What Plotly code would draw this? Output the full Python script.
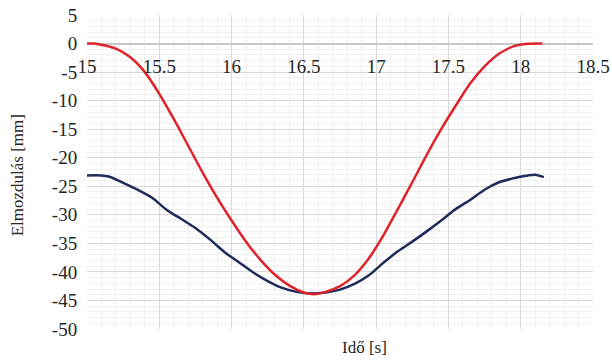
import plotly.graph_objects as go

# Data
t_red = [15.00, 15.05, 15.10, 15.20, 15.30, 15.40, 15.50, 15.60, 15.70, 15.80, 15.90,
         16.00, 16.10, 16.20, 16.30, 16.40, 16.50, 16.57, 16.65, 16.75, 16.85, 16.95,
         17.05, 17.15, 17.25, 17.35, 17.45, 17.55, 17.65, 17.75, 17.85, 17.95, 18.05, 18.15]
y_red = [0.0, 0.0, -0.2, -0.9, -2.4, -5.0, -8.8, -13.2, -17.9, -22.6, -27.0,
         -31.0, -34.7, -37.9, -40.5, -42.4, -43.6, -43.9, -43.5, -42.5, -40.6, -37.6,
         -33.6, -29.0, -24.3, -19.5, -15.0, -10.9, -7.0, -4.0, -1.8, -0.5, -0.05, 0.0]

t_blue = [15.00, 15.10, 15.15, 15.25, 15.35, 15.45, 15.55, 15.65, 15.75, 15.85, 15.95,
          16.05, 16.15, 16.25, 16.35, 16.45, 16.55, 16.65, 16.75, 16.85, 16.95, 17.05,
          17.15, 17.25, 17.35, 17.45, 17.55, 17.65, 17.75, 17.85, 17.95, 18.05, 18.10, 18.16]
y_blue = [-23.1, -23.1, -23.3, -24.4, -25.6, -27.0, -29.1, -30.7, -32.3, -34.3, -36.5,
          -38.3, -40.1, -41.6, -42.8, -43.5, -43.8, -43.6, -43.1, -42.1, -40.6, -38.4,
          -36.4, -34.7, -32.9, -31.0, -29.0, -27.4, -25.6, -24.3, -23.6, -23.1, -23.0, -23.4]

x_tickvals = [15, 15.5, 16, 16.5, 17, 17.5, 18, 18.5]
x_ticktext = ["15", "15.5", "16", "16.5", "17", "17.5", "18", "18.5"]
y_tickvals = [5, 0, -5, -10, -15, -20, -25, -30, -35, -40, -45, -50]
y_ticktext = ["5", "0", "-5", "-10", "-15", "-20", "-25", "-30", "-35", "-40", "-45", "-50"]

FONT = "Liberation Serif"
TXT = "#262626"

fig = go.Figure()
fig.add_trace(go.Scatter(x=t_blue, y=y_blue, mode="lines",
                         line=dict(color="#1f2b58", width=2.5, shape="spline", smoothing=0.8),
                         showlegend=False))
fig.add_trace(go.Scatter(x=t_red, y=y_red, mode="lines",
                         line=dict(color="#e0232b", width=2.5, shape="spline", smoothing=0.8),
                         showlegend=False))

ymin, ymax = -50, 5
fig.update_layout(
    width=612, height=360,
    margin=dict(l=87, r=19, t=15, b=31, autoexpand=False),
    paper_bgcolor="white", plot_bgcolor="white",
    font=dict(family=FONT, size=19, color=TXT),
    xaxis=dict(range=[15, 18.5], tickvals=x_tickvals, ticktext=x_ticktext,
               anchor="free", position=(0 - ymin) / (ymax - ymin), automargin=False,
               showgrid=True, gridcolor="#d9d9d9", gridwidth=1,
               minor=dict(dtick=0.1, showgrid=True, gridcolor="#f0f0f0", gridwidth=1),
               zeroline=False, showline=False, ticks="outside", ticklen=6, tickcolor="rgba(0,0,0,0)",
               tickfont=dict(family=FONT, size=19, color=TXT)),
    yaxis=dict(range=[ymin, ymax], tickvals=y_tickvals, ticktext=y_ticktext, automargin=False,
               showgrid=True, gridcolor="#d9d9d9", gridwidth=1,
               minor=dict(dtick=1, showgrid=True, gridcolor="#f0f0f0", gridwidth=1),
               zeroline=True, zerolinecolor="#c8c8c8", zerolinewidth=2,
               showline=False, ticks="outside", ticklen=5, tickcolor="rgba(0,0,0,0)",
               tickfont=dict(family=FONT, size=19, color=TXT)),
    annotations=[
        dict(text="Idő [s]", x=0.549, y=-0.06, xref="paper", yref="paper",
             xanchor="center", yanchor="middle", showarrow=False,
             font=dict(family=FONT, size=17, color=TXT)),
        dict(text="Elmozdulás [mm]", x=-0.138, y=0.49, xref="paper", yref="paper",
             xanchor="center", yanchor="middle", showarrow=False, textangle=-90,
             font=dict(family=FONT, size=17, color=TXT)),
    ],
)

# remove the browser's default 8px body margin so the figure fills the window exactly
fig.write_html("out.html", config={"displayModeBar": False},
               post_script="document.body.style.margin='0';")
